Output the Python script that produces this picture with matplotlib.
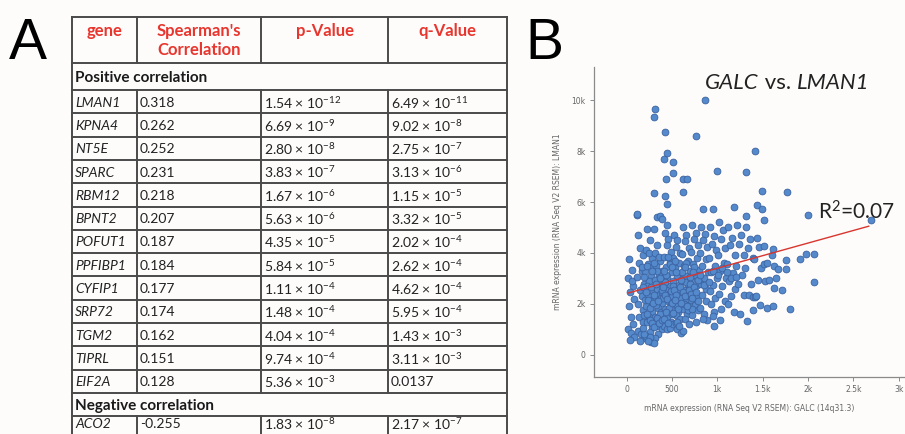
import matplotlib
matplotlib.use("Agg")
import matplotlib.pyplot as plt
import numpy as np

plt.rcParams['mathtext.fontset'] = 'custom'
plt.rcParams['mathtext.rm'] = 'Lato'
plt.rcParams['mathtext.it'] = 'Lato:italic'
plt.rcParams['mathtext.bf'] = 'Lato:bold'

# ---- panel A: table values ----
header = ["gene", "Spearman's\nCorrelation", "p-Value", "q-Value"]
genes_pos = ['LMAN1', 'KPNA4', 'NT5E', 'SPARC', 'RBM12', 'BPNT2', 'POFUT1',
             'PPFIBP1', 'CYFIP1', 'SRP72', 'TGM2', 'TIPRL', 'EIF2A']
rho_pos = ['0.318', '0.262', '0.252', '0.231', '0.218', '0.207', '0.187',
           '0.184', '0.177', '0.174', '0.162', '0.151', '0.128']
p_pos = ['1.54e-12', '6.69e-9', '2.80e-8', '3.83e-7', '1.67e-6', '5.63e-6', '4.35e-5',
         '5.84e-5', '1.11e-4', '1.48e-4', '4.04e-4', '9.74e-4', '5.36e-3']
q_pos = ['6.49e-11', '9.02e-8', '2.75e-7', '3.13e-6', '1.15e-5', '3.32e-5', '2.02e-4',
         '2.62e-4', '4.62e-4', '5.95e-4', '1.43e-3', '3.11e-3', '0.0137']
genes_neg = ['ACO2']
rho_neg = ['-0.255']
p_neg = ['1.83e-8']
q_neg = ['2.17e-7']

# ---- panel B: scatter values (GALC, LMAN1) ----
scatter_pts = [
    # x 0-100
    (30, 3750), (55, 3350), (20, 3000), (70, 2700), (40, 2450), (85, 2200), (25, 1900),
    (60, 2900), (45, 1500), (15, 1000), (50, 850), (80, 700), (35, 600), (65, 1200),
    # x 100-200
    (110, 5500), (125, 4700), (150, 4200), (180, 3900), (135, 3600), (170, 3300), (115, 3050),
    (190, 2800), (145, 2550), (165, 2300), (120, 2000), (185, 1750), (140, 1500), (175, 1300),
    (130, 950), (160, 800), (195, 650), (150, 550),
    # x 200-300
    (230, 4950), (260, 4500), (215, 4100), (280, 3800), (240, 3550), (205, 3300), (270, 3100),
    (250, 2900), (220, 2700), (290, 2500), (235, 2300), (265, 2100), (210, 1900), (285, 1700),
    (245, 1500), (225, 1300), (275, 1100), (255, 900), (215, 750), (290, 600), (270, 500),
    (245, 4000), (295, 3450), (200, 2150), (260, 1850),
    # x 300-400
    (305, 4950), (340, 4300), (315, 4000), (370, 3700), (325, 3500), (390, 3300), (355, 3150),
    (310, 2950), (380, 2750), (335, 2600), (365, 2400), (320, 2200), (395, 2050), (345, 1850),
    (375, 1700), (310, 1500), (360, 1350), (330, 1150), (385, 1000), (350, 800), (315, 650),
    (300, 450), (330, 5400), (360, 3850), (395, 2450), (340, 3300), (375, 2250), (320, 1950),
    # x 400-500
    (420, 4800), (460, 4550), (440, 4300), (490, 4050), (410, 3850), (475, 3650), (430, 3450),
    (495, 3250), (450, 3050), (415, 2900), (480, 2700), (435, 2550), (470, 2400), (405, 2250),
    (455, 2100), (490, 1950), (425, 1800), (465, 1650), (440, 1500), (485, 1300), (415, 1150),
    (450, 1000), (445, 5100), (480, 3550), (420, 2850), (500, 2000), (460, 2300), (435, 3150),
    (410, 1650), (475, 1050),
    # x 500-600
    (520, 4700), (560, 4500), (540, 4250), (590, 4000), (510, 3800), (575, 3600), (530, 3400),
    (595, 3200), (550, 3050), (515, 2900), (580, 2750), (535, 2600), (565, 2450), (505, 2300),
    (555, 2150), (590, 2000), (525, 1850), (570, 1700), (545, 1550), (585, 1400), (515, 1200),
    (560, 1000), (600, 850), (530, 3700), (575, 2500), (550, 1900), (510, 2700), (595, 2350),
    (540, 1250),
    # x 600-700
    (620, 5000), (660, 4700), (640, 4450), (690, 4200), (610, 3950), (675, 3700), (630, 3500),
    (695, 3300), (650, 3100), (615, 2900), (680, 2700), (635, 2550), (670, 2400), (605, 2250),
    (655, 2100), (690, 1950), (625, 1800), (665, 1600), (640, 1400), (685, 1200), (620, 950),
    (650, 3600), (700, 2650), (660, 2850), (630, 2000), (680, 1750), (610, 3250),
    # x 700-800
    (720, 5100), (760, 4800), (740, 4550), (790, 4300), (710, 4050), (775, 3800), (730, 3550),
    (795, 3350), (750, 3150), (715, 2950), (780, 2750), (735, 2550), (770, 2350), (705, 2150),
    (755, 1950), (790, 1750), (725, 1550), (765, 1300), (745, 3450), (700, 2800), (785, 2100),
    (720, 1800),
    # x 800-900
    (820, 5000), (860, 4750), (840, 4500), (890, 4250), (810, 4000), (875, 3750), (830, 3500),
    (895, 3250), (850, 3000), (815, 2800), (880, 2600), (835, 2350), (870, 2100), (805, 1850),
    (855, 1600), (885, 1380), (845, 1400),
    # x 900-1000
    (920, 5000), (960, 4650), (940, 4350), (990, 4100), (910, 3800), (975, 3500), (930, 3250),
    (995, 3000), (950, 2750), (915, 2500), (980, 2250), (935, 2000), (965, 1700), (957, 1535),
    (965, 1140),
    # x 1000-1100
    (1020, 5200), (1060, 4900), (1040, 4550), (1090, 4200), (1010, 3900), (1075, 3600),
    (1030, 3300), (1095, 3000), (1050, 2700), (1015, 2400), (1080, 2100), (1045, 1800),
    (1031, 1380),
    # x 1100-1500
    (1120, 5000), (1160, 4600), (1140, 4300), (1190, 3900), (1110, 3550), (1175, 3200),
    (1130, 2900), (1195, 2600), (1150, 2300), (1115, 2000), (1180, 1700),
    (1220, 5100), (1260, 4700), (1240, 4350), (1290, 3900), (1210, 3500), (1275, 3150),
    (1230, 2800), (1295, 2350), (1252, 1600),
    (1320, 5000), (1360, 4550), (1340, 4200), (1390, 3800), (1310, 3400), (1375, 2800),
    (1345, 2350), (1326, 1340), (1399, 1770), (1399, 2260), (1420, 2260),
    (1440, 4600), (1460, 4250), (1410, 3750), (1480, 3400), (1450, 2950), (1430, 2300),
    (1470, 1950),
    # dense core, extra
    (180, 2650), (210, 2450), (240, 2150), (265, 2650), (290, 2050), (305, 2350), (325, 2800),
    (345, 2100), (365, 1600), (385, 2550), (405, 2650), (425, 2350), (445, 2200), (465, 1850),
    (485, 2500), (505, 2050), (525, 2550), (545, 2350), (565, 1800), (585, 2650), (605, 2050),
    (625, 2450), (645, 2300), (665, 1900), (685, 2550), (705, 2400), (725, 2250), (745, 2650),
    (765, 2450), (785, 2950), (195, 1550), (225, 1600), (255, 1350), (285, 1250), (305, 1100),
    (335, 1450), (355, 1250), (385, 1350), (415, 1400), (435, 1700), (455, 1250), (495, 1600),
    (515, 1650), (535, 2150), (555, 1300), (575, 1150), (255, 700), (235, 550), (195, 800),
    (175, 1050), (165, 3450), (195, 3050), (225, 3500), (275, 3300), (305, 3600), (365, 3000),
    (415, 3300), (455, 3850), (505, 3450), (545, 3250), (595, 2950), (645, 3450), (695, 3050),
    (735, 3250), (805, 3150), (855, 2750), (905, 2850), (955, 3300), (1005, 3150), (1055, 3400),
    (1105, 3250), (1155, 3000), (1205, 3050),
    # high outliers
    (865, 10010), (316, 9660), (305, 9320), (423, 8730), (762, 8610), (1418, 8000), (449, 7930),
    (409, 7700), (515, 7570), (1001, 7220), (1315, 7170), (515, 7150), (438, 6890), (625, 6900),
    (662, 6900), (298, 6360), (625, 6390), (1492, 6420), (423, 6220), (449, 5920), (840, 5740),
    (957, 5740), (1189, 5800), (1436, 5890), (1492, 5710), (117, 5510), (368, 5470), (393, 5340),
    (1318, 5470), (1514, 5310),
    # right side
    (1768, 6390), (2000, 5500), (2699, 5280), (1981, 3960), (2070, 3960), (1907, 3770),
    (2062, 2860), (1510, 4260), (1602, 3910), (1510, 3570), (1547, 3610), (1628, 3500),
    (1664, 3370), (1760, 3370), (1528, 2890), (1565, 2950), (1650, 3020), (1620, 2630),
    (1713, 2560), (1797, 1800), (1547, 1840), (1609, 1930), (1760, 3740), (1609, 4150),
]
fit_x = [20, 2670]
fit_y = [2430, 5050]
x_ticks = [0, 500, 1000, 1500, 2000, 2500, 3000]
x_ticklabels = ['0', '500', '1k', '1.5k', '2k', '2.5k', '3k']
y_ticks = [0, 2000, 4000, 6000, 8000, 10000]
y_ticklabels = ['0', '2k', '4k', '6k', '8k', '10k']


def sci(s):
    if 'e' not in s:
        return s
    m, e = s.split('e')
    return m + ' × 10$^{' + e + '}$'


fig = plt.figure(figsize=(9.05, 4.34), dpi=100)
fig.patch.set_facecolor('#fdfcfb')

# table drawn in pixel coordinates
tab = fig.add_axes([0, 0, 1, 1])
tab.set_xlim(0, 905)
tab.set_ylim(434, 0)
tab.axis('off')

line_c = '#4a4a4a'
red = '#e8352d'
txt_c = '#222222'
col_x = [72, 137, 261, 388, 507]
head_top, head_bot = 17, 63
sec_h, row_h = 27, 23.3

tab.text(9, 59, 'A', fontsize=41, family='Liberation Sans', va='baseline')

# header
for i, h in enumerate(header):
    cx = (col_x[i] + col_x[i + 1]) / 2
    tab.text(cx, head_top + 6, h, color=red, fontsize=12, fontweight='bold',
             family='Lato', ha='center', va='top', linespacing=1.2)

rows = []  # (kind, y_top, y_bot, content)
y = head_bot
rows.append(('sec', y, y + sec_h, 'Positive correlation'))
y += sec_h
for g, r, p, q in zip(genes_pos, rho_pos, p_pos, q_pos):
    rows.append(('row', y, y + row_h, (g, r, p, q)))
    y += row_h
rows.append(('sec', y, y + row_h, 'Negative correlation'))
y += row_h
for g, r, p, q in zip(genes_neg, rho_neg, p_neg, q_neg):
    rows.append(('row', y, y + row_h + 10, (g, r, p, q)))
    y += row_h + 10

lw = 1.4
tab.plot([col_x[0], col_x[-1]], [head_top, head_top], color=line_c, lw=lw)
tab.plot([col_x[0], col_x[-1]], [head_bot, head_bot], color=line_c, lw=lw)
for cx in col_x:
    tab.plot([cx, cx], [head_top, head_bot], color=line_c, lw=lw)

for kind, y0, y1, content in rows:
    tab.plot([col_x[0], col_x[-1]], [y1, y1], color=line_c, lw=lw)
    if kind == 'sec':
        for cx in (col_x[0], col_x[-1]):
            tab.plot([cx, cx], [y0, y1], color=line_c, lw=lw)
        tab.text(col_x[0] + 3, (y0 + y1) / 2 + 1, content, fontsize=11,
                 fontweight='bold', family='Lato', va='center', color='#1a1a1a')
    else:
        for cx in col_x:
            tab.plot([cx, cx], [y0, y1], color=line_c, lw=lw)
        g, r, p, q = content
        yc = min(y0 + row_h / 2 + 1, 424)
        tab.text(col_x[0] + 3, yc, g, fontsize=10, fontstyle='italic',
                 family='Lato', va='center', color=txt_c)
        tab.text(col_x[1] + 3, yc, r, fontsize=10, family='Lato', va='center',
                 color=txt_c)
        tab.text(col_x[2] + 3, yc, sci(p), fontsize=10, family='Lato', va='center',
                 color=txt_c)
        tab.text(col_x[3] + 3, yc, sci(q), fontsize=10, family='Lato', va='center',
                 color=txt_c)

tab.text(525, 59, 'B', fontsize=41, family='Liberation Sans', va='baseline')

# ---- scatter ----
pts = np.array(scatter_pts, dtype=float)
galc, lman1 = pts[:, 0], pts[:, 1]

ax = fig.add_axes([594 / 905, 1 - 377 / 434, 311 / 905, 310 / 434])
ax.set_facecolor('none')
ax.scatter(galc, lman1, s=24, color='#5489cc', edgecolors='#3b62a0',
           linewidths=0.6, zorder=2)
ax.plot(fit_x, fit_y, color='#d8362f', lw=1.0, zorder=3)
ax.set_xlim(-360, 3070)
ax.set_ylim(-870, 11300)
ax.set_xticks(x_ticks)
ax.set_xticklabels(x_ticklabels)
ax.set_yticks(y_ticks)
ax.set_yticklabels(y_ticklabels)
for s in ('top', 'right'):
    ax.spines[s].set_visible(False)
for s in ('left', 'bottom'):
    ax.spines[s].set_color('#8a8a8a')
    ax.spines[s].set_linewidth(0.9)
ax.tick_params(length=3, width=0.7, color='#8a8a8a', labelsize=5.5,
               labelcolor='#666666', pad=3)
ax.set_xlabel('mRNA expression (RNA Seq V2 RSEM): GALC (14q31.3)',
              fontsize=5.5, color='#666666', labelpad=7)
ax.set_ylabel('mRNA expression (RNA Seq V2 RSEM): LMAN1',
              fontsize=5.5, color='#666666', labelpad=7)

# title: italic gene names, plain "vs."
t1 = ax.text(705, 73, 'GALC', transform=tab.transData, fontsize=16, family='Lato',
             fontstyle='italic', ha='left', va='top', color=txt_c)
t2 = ax.annotate(' vs. ', xy=(1, 0), xycoords=t1, fontsize=16, family='Lato',
                 ha='left', va='bottom', color=txt_c)
ax.annotate('LMAN1', xy=(1, 0), xycoords=t2, fontsize=16, family='Lato',
            fontstyle='italic', ha='left', va='bottom', color=txt_c)
ax.text(0.72, 0.495, r'R$^2$=0.07', transform=ax.transAxes, fontsize=15,
        family='Lato', ha='left', va='bottom', color=txt_c)

fig.savefig('out.png', dpi=100, facecolor=fig.get_facecolor())
